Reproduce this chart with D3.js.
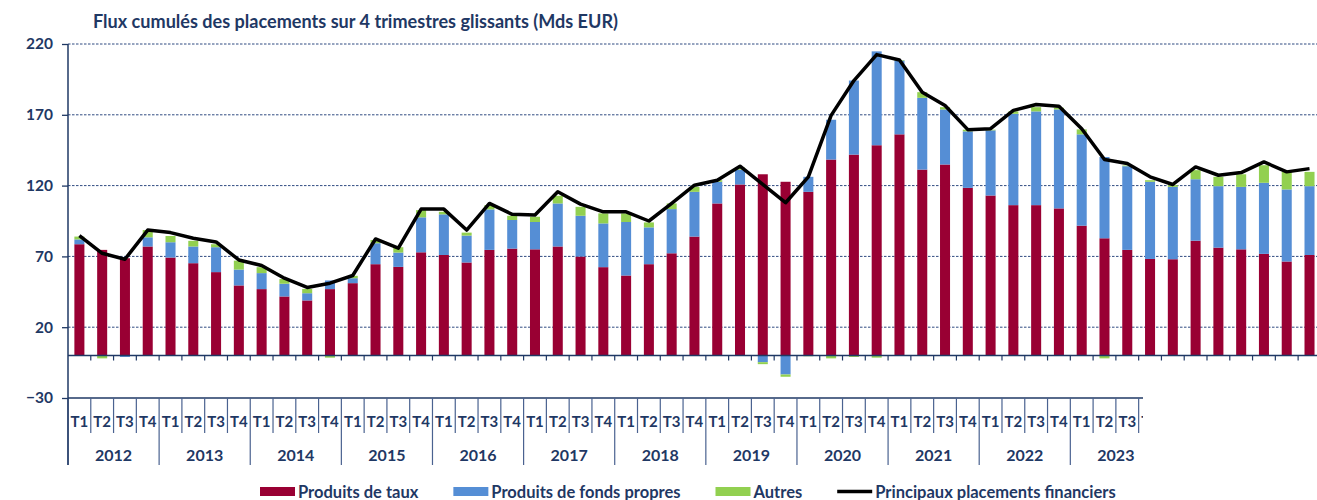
<!DOCTYPE html>
<html>
<head>
<meta charset="utf-8">
<script src="https://cdn.jsdelivr.net/npm/d3@7"></script>
<style>
  body { margin: 0; background: #fff; }
  svg { display: block; font-family: Lato, "Open Sans", sans-serif; font-weight: bold; }
</style>
</head>
<body>
<svg id="chart"></svg>
<script>
// categories
const years = ["2012","2013","2014","2015","2016","2017","2018","2019","2020","2021","2022","2023","2024","2025"]
const quarters = ["T1","T2","T3","T4"]
const nQuarters = 55   // 2012 T1 -> 2025 T3
const yTicks = [-30, 20, 70, 120, 170, 220]

// series (Mds EUR)
const produitsTaux = [78.6,74.6,68.7,77,69.2,65.2,58.9,49.5,46.9,41.7,38.9,46.9,51.1,64.5,62.6,72.9,
  71,65.7,74.6,75.5,75,77,69.9,62.4,56.5,64.5,72.2,84,107.4,120.8,128,122.7,115.6,138.4,141.9,148.5,
  156.2,131.3,134.9,118.4,113,106.2,106.2,103.9,91.7,82.8,74.6,68.2,68,81.1,76.2,75,71.8,66.4,71]
const fondsPropres = [3.4,0,-1,6.5,10.8,11.8,17.6,11.2,11.3,9,5.1,6.1,3.5,14.8,10.1,24.7,
  28.7,19,28.6,20.2,19.3,30.4,28.8,30.9,37.8,26,31.2,31.6,15.3,10.5,-4.7,-13.4,10.6,28.1,52.3,66.3,
  52.1,50.7,38.9,39.9,46,64.5,66.2,69.9,64.5,57.4,59.1,54.5,51.1,43.4,43.4,44.1,50.2,50.9,48.6]
const autres = [2,-2,0,5.1,4.4,4,2.1,6.3,4.2,3.3,3,-1.5,1.7,2.3,3.8,5.1,
  1.8,2.1,3,3,3.7,5.4,6.3,7.1,6.1,3.5,4,3.5,1.1,1.5,-1.4,-1.6,-0.5,-2,-1,-1.5,
  0.4,4,1.6,1.2,0.5,1.7,3,1.2,3.5,-2,0.5,1.1,1.2,6.4,6.6,8.9,12.4,12.4,10.1]
const principaux = [84.7,72.2,68,88.6,86.8,82.8,80.2,67.5,63.6,54.6,48.1,51.1,56.5,82.3,75.8,103.4,
  103.4,88.6,107.4,99.7,99.2,115.6,106.9,101.5,101.5,95,107.4,120.3,123.8,133.7,120.8,107.9,126.2,169.6,194.2,212.5,
  208.7,186,176.6,159.5,160.2,173.1,177.3,176.1,160.2,138.4,135.6,126.2,120.8,133.2,127.3,129.2,136.7,129.7,132]

const seriesNames = ["Produits de taux", "Produits de fonds propres", "Autres"]
const colors = ["#990033", "#558ed5", "#92d050"]
const lineName = "Principaux placements financiers"

const categories = d3.range(nQuarters).map(i => years[Math.floor(i / 4)] + " " + quarters[i % 4])
const rows = categories.map((c, i) => ({
  cat: c, "Produits de taux": produitsTaux[i], "Produits de fonds propres": fondsPropres[i], "Autres": autres[i]
}))

const width = 1317, height = 500
const navy = "#1f3864"
const svg = d3.select("#chart").attr("width", width).attr("height", height)

const x0 = 68, step = 22.78
const x = d3.scaleBand()
  .domain(categories)
  .range([x0, x0 + step * nQuarters])
  .paddingInner(0.56).paddingOuter(0.28)
const y = d3.scaleLinear().domain([-30, 220]).range([398, 44])

const left = c => x(c) + x.bandwidth() / 2 - x.step() / 2
const mid = c => x(c) + x.bandwidth() / 2

// title
svg.append("text")
  .attr("x", 93).attr("y", 28)
  .attr("font-size", 18)
  .attr("fill", navy)
  .attr("textLength", 525).attr("lengthAdjust", "spacingAndGlyphs")
  .text("Flux cumulés des placements sur 4 trimestres glissants (Mds EUR)")

// gridlines
svg.append("g").selectAll("line")
  .data(yTicks.filter(d => d > 0))
  .join("line")
  .attr("x1", x0).attr("x2", width)
  .attr("y1", d => y(d)).attr("y2", d => y(d))
  .attr("stroke", "#2f4a80").attr("stroke-width", 1)
  .attr("stroke-dasharray", "2.5,1.5")

// y axis
const yAxis = svg.append("g")
  .attr("transform", `translate(${x0},0)`)
  .call(d3.axisLeft(y).tickValues(yTicks).tickSize(6).tickPadding(9))
yAxis.select(".domain").remove()
yAxis.selectAll(".tick line").attr("stroke", navy).attr("stroke-width", 1.3)
yAxis.selectAll(".tick text")
  .attr("fill", navy).attr("font-size", 15.5).attr("font-family", "Lato").attr("font-weight", "bold")

// stacked bars
const stack = d3.stack().keys(seriesNames).offset(d3.stackOffsetDiverging)
const stacked = stack(rows)
svg.append("g").selectAll("g")
  .data(stacked)
  .join("g")
  .attr("fill", (d, i) => colors[i])
  .selectAll("rect")
  .data(d => d)
  .join("rect")
  .attr("x", d => x(d.data.cat))
  .attr("width", x.bandwidth())
  .attr("y", d => y(Math.max(d[0], d[1])))
  .attr("height", d => Math.abs(y(d[0]) - y(d[1])))

// zero line with category ticks
svg.append("line")
  .attr("x1", x0).attr("x2", width)
  .attr("y1", y(0)).attr("y2", y(0))
  .attr("stroke", navy).attr("stroke-width", 1.5)
svg.append("g").selectAll("line")
  .data(categories.slice(1))
  .join("line")
  .attr("x1", left).attr("x2", left)
  .attr("y1", y(0)).attr("y2", y(0) + 5)
  .attr("stroke", navy).attr("stroke-width", 1.2)

// line series
const line = d3.line()
  .x((d, i) => mid(categories[i]))
  .y(d => y(d))
svg.append("path")
  .datum(principaux)
  .attr("d", line)
  .attr("fill", "none")
  .attr("stroke", "#000")
  .attr("stroke-width", 3.5)
  .attr("stroke-linejoin", "round")

// lower label panel (cut off after 2023 T3 in the source)
svg.append("clipPath").attr("id", "panel")
  .append("rect").attr("x", 0).attr("y", 0).attr("width", 1143).attr("height", height)
const panel = svg.append("g").attr("clip-path", "url(#panel)")
const yb = y(-30)
panel.append("line")
  .attr("x1", x0).attr("x2", width)
  .attr("y1", yb).attr("y2", yb)
  .attr("stroke", navy).attr("stroke-width", 1.5)
panel.selectAll(".sep")
  .data(categories)
  .join("line")
  .attr("x1", left).attr("x2", left)
  .attr("y1", yb)
  .attr("y2", (d, i) => i % 4 === 0 ? 465 : 433)
  .attr("stroke", "#4a6290").attr("stroke-width", 1.2)
panel.selectAll(".q")
  .data(categories)
  .join("text")
  .attr("x", mid).attr("y", 427)
  .attr("text-anchor", "middle")
  .attr("font-size", 15).attr("fill", navy)
  .text((d, i) => quarters[i % 4])
panel.selectAll(".yr")
  .data(years)
  .join("text")
  .attr("x", d => left(d + " T1") + 2 * x.step())
  .attr("y", 461)
  .attr("text-anchor", "middle")
  .attr("font-size", 16).attr("fill", navy)
  .text(d => d)

// y axis line
svg.append("line")
  .attr("x1", x0).attr("x2", x0)
  .attr("y1", y(220)).attr("y2", 465)
  .attr("stroke", navy).attr("stroke-width", 1.5)

// legend
const legend = svg.append("g").attr("font-size", 16.5).attr("fill", navy)
let lx = 260
const items = seriesNames.map((n, i) => ({ name: n, color: colors[i], type: "rect" }))
  .concat([{ name: lineName, color: "#000", type: "line" }])
items.forEach(it => {
  if (it.type === "rect") {
    legend.append("rect").attr("x", lx).attr("y", 487).attr("width", 35).attr("height", 9).attr("fill", it.color)
  } else {
    legend.append("line").attr("x1", lx).attr("x2", lx + 35).attr("y1", 491.5).attr("y2", 491.5)
      .attr("stroke", it.color).attr("stroke-width", 3.5)
  }
  const t = legend.append("text").attr("x", lx + 38).attr("y", 497.5).text(it.name)
  lx += 38 + t.node().getComputedTextLength() + 35
})
</script>
</body>
</html>
